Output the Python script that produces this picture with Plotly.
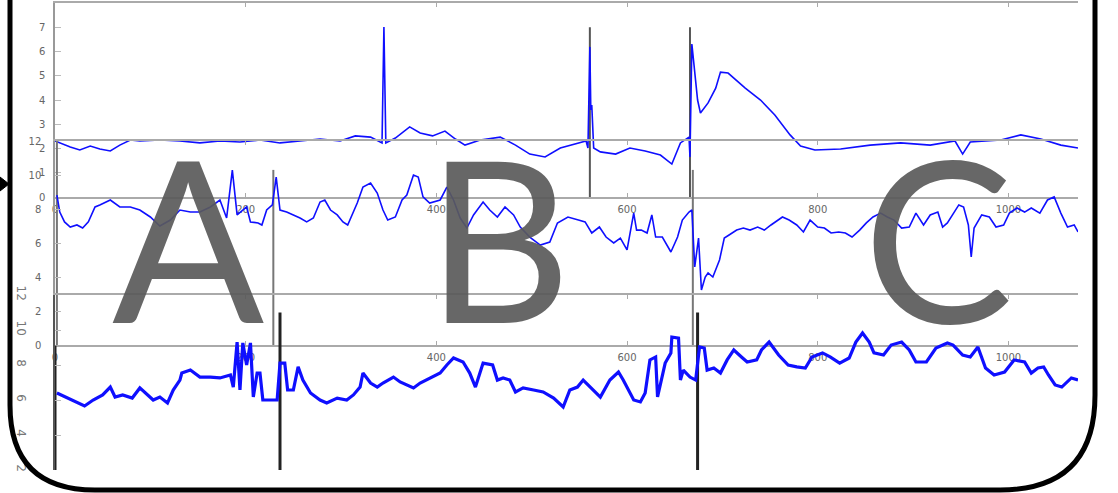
import plotly.graph_objects as go

# ---------------- data ----------------
# Panel 1 (top)
p1_x = [0, 5, 16, 26, 37, 47, 58, 68, 79, 89, 110, 131, 152, 173, 194, 215, 236, 257, 278, 299,
        315, 331, 343, 345, 347, 357, 372, 383, 396, 409, 420, 430, 446, 467, 483, 498, 514, 530,
        546, 557, 559, 561, 562, 563, 565, 572, 588, 603, 619, 635, 647, 656, 665, 666, 668, 674,
        677, 685, 693, 698, 706, 714, 724, 740, 755, 771, 782, 797, 824, 855, 887, 918, 944, 952,
        960, 992, 1013, 1034, 1055, 1073]
p1_y = [2.31, 2.23, 2.06, 1.94, 2.10, 1.98, 1.90, 2.14, 2.35, 2.31, 2.35, 2.31, 2.23, 2.31, 2.27,
        2.35, 2.23, 2.31, 2.39, 2.31, 2.52, 2.47, 2.23, 7.01, 2.23, 2.43, 2.89, 2.64, 2.52, 2.72,
        2.39, 2.14, 2.35, 2.47, 2.14, 1.77, 1.65, 2.02, 2.19, 2.31, 2.02, 6.19, 3.59, 3.79, 2.02,
        1.86, 1.77, 2.02, 1.90, 1.73, 1.36, 2.23, 2.47, 1.65, 6.31, 4.00, 3.46, 3.88, 4.49, 5.15,
        5.11, 4.82, 4.49, 4.00, 3.38, 2.56, 2.10, 1.94, 1.98, 2.14, 2.23, 2.14, 2.31, 1.77, 2.27,
        2.35, 2.56, 2.39, 2.14, 2.02]
p1_marks_x = [561, 666]
p1_marks_y = [0, 7]

# Panel 2 (middle)
p2_x = [2, 5, 10, 16, 23, 29, 35, 42, 47, 58, 68, 79, 89, 100, 110, 121, 131, 142, 152, 163, 173,
        180, 186, 191, 201, 205, 213, 217, 222, 228, 232, 236, 243, 250, 257, 264, 271, 278, 283,
        289, 296, 302, 307, 317, 323, 331, 338, 344, 349, 357, 364, 369, 376, 381, 386, 393, 404,
        411, 418, 425, 432, 439, 449, 456, 464, 472, 481, 488, 498, 509, 519, 527, 538, 549, 556,
        563, 571, 578, 586, 593, 600, 607, 610, 615, 621, 626, 630, 637, 643, 646, 653, 658, 665,
        668, 671, 675, 678, 682, 685, 690, 697, 702, 707, 715, 722, 729, 737, 744, 751, 763, 770,
        778, 785, 792, 800, 807, 814, 822, 829, 836, 844, 851, 858, 866, 873, 880, 888, 896, 903,
        911, 918, 926, 931, 936, 948, 953, 958, 961, 964, 972, 980, 987, 995, 1001, 1009, 1017,
        1024, 1033, 1041, 1048, 1055, 1062, 1069, 1073]
p2_y = [8.82, 7.82, 7.24, 6.94, 7.06, 6.88, 7.24, 8.12, 8.24, 8.53, 8.12, 8.12, 7.94, 7.53, 7.00,
        7.35, 7.94, 7.82, 7.82, 8.12, 8.53, 7.47, 10.29, 7.65, 8.12, 7.24, 7.18, 7.06, 7.94, 8.24,
        9.88, 7.94, 7.82, 7.65, 7.47, 7.24, 7.47, 8.41, 8.53, 7.94, 7.65, 7.24, 7.06, 8.35, 9.29,
        9.53, 8.94, 7.94, 7.35, 7.53, 8.53, 8.82, 10.00, 9.88, 8.71, 8.35, 8.53, 9.29, 8.53, 7.47,
        6.88, 7.65, 8.41, 7.94, 7.53, 8.12, 7.65, 6.94, 6.35, 5.88, 6.06, 7.18, 7.53, 7.35, 7.24,
        6.59, 6.94, 6.35, 6.00, 6.29, 5.59, 7.76, 6.76, 6.76, 6.59, 7.65, 6.35, 6.35, 5.76, 5.47,
        6.35, 7.35, 7.82, 7.94, 4.59, 6.29, 3.24, 4.00, 4.24, 4.00, 5.00, 6.29, 6.47, 6.76, 6.88,
        6.76, 6.94, 6.76, 7.06, 7.53, 7.35, 7.06, 6.65, 7.35, 6.94, 6.88, 6.59, 6.65, 6.59, 6.35,
        6.76, 7.18, 7.53, 7.76, 7.53, 7.35, 6.88, 6.94, 7.76, 7.06, 7.65, 7.82, 6.94, 7.18, 8.24,
        8.12, 7.06, 5.18, 6.88, 7.65, 7.53, 6.94, 7.06, 7.76, 8.06, 7.82, 8.06, 7.76, 8.53, 8.71,
        7.76, 6.94, 7.06, 6.65]
p2_marks_x = [2, 229, 669]
p2_marks_top = [12, 10.3, 10.3]

# Panel 3 (bottom)
p3_x = [2, 13, 23, 31, 40, 50, 58, 63, 71, 81, 89, 97, 103, 110, 118, 124, 131, 133, 142, 152, 163,
        173, 184, 187, 191, 194, 197, 201, 205, 208, 212, 215, 218, 226, 233, 236, 241, 244, 250,
        255, 260, 268, 278, 285, 296, 306, 313, 320, 323, 331, 338, 344, 355, 362, 376, 383, 393,
        404, 411, 418, 428, 435, 441, 449, 459, 464, 470, 477, 483, 491, 502, 512, 523, 533, 540,
        548, 554, 565, 572, 582, 591, 596, 607, 614, 619, 624, 630, 632, 640, 646, 647, 654, 656,
        659, 666, 672, 676, 681, 684, 691, 698, 705, 712, 720, 726, 736, 741, 749, 759, 769, 778,
        787, 794, 805, 813, 823, 833, 840, 847, 854, 859, 869, 877, 888, 896, 903, 914, 924, 936,
        942, 952, 960, 968, 976, 985, 996, 1006, 1017, 1024, 1031, 1037, 1042, 1049, 1056, 1066,
        1073]
p3_y = [6.40, 6.11, 5.89, 5.66, 6.00, 6.29, 6.74, 6.17, 6.29, 6.11, 6.69, 6.29, 6.00, 6.17, 5.83,
        6.57, 7.14, 7.54, 7.71, 7.31, 7.31, 7.26, 7.43, 6.74, 9.31, 6.57, 9.26, 8.00, 9.26, 6.17,
        7.54, 7.54, 6.00, 6.00, 6.00, 8.11, 8.11, 6.57, 6.57, 7.89, 7.14, 6.40, 6.00, 5.83, 6.11,
        6.00, 6.29, 6.74, 7.54, 6.97, 6.74, 6.97, 7.31, 7.03, 6.69, 6.97, 7.26, 7.54, 8.00, 8.40,
        8.17, 7.54, 6.74, 8.11, 8.00, 7.14, 7.26, 7.14, 6.46, 6.69, 6.57, 6.46, 6.11, 5.60, 6.57,
        6.74, 7.14, 6.57, 6.17, 7.14, 7.60, 7.14, 6.00, 5.89, 6.40, 8.29, 8.46, 6.17, 8.11, 8.69,
        9.60, 9.54, 7.14, 7.71, 7.31, 7.14, 9.03, 8.97, 7.71, 7.83, 7.54, 8.29, 8.86, 8.46, 8.17,
        8.29, 8.86, 9.31, 8.57, 8.00, 7.89, 7.83, 8.46, 8.69, 8.46, 8.11, 8.40, 9.31, 9.83, 9.31,
        8.69, 8.57, 9.14, 9.31, 8.86, 8.17, 8.17, 8.97, 9.26, 9.14, 8.57, 8.46, 9.03, 7.83, 7.43,
        7.60, 8.29, 8.17, 7.54, 7.83, 7.89, 7.43, 6.86, 6.74, 7.26, 7.14]
p3_marks_x = [0, 236, 674]
p3_marks_top = [9.1, 11.0, 11.0]
p3_marks_bottom = 2

x_ticks = [0, 200, 400, 600, 800, 1000]
p1_ticks = [0, 1, 2, 3, 4, 5, 6, 7, 8]
p2_ticks = [0, 2, 4, 6, 8, 10, 12]
p3_ticks = [2, 4, 6, 8, 10, 12]
letters = ["A", "B", "C"]

# ---------------- figure ----------------
W, H = 1118, 493


def px(x):
    return x / W


def py(y):
    return 1 - y / H


BLUE = "rgb(15,15,255)"
fig = go.Figure()

for xv in p1_marks_x:
    fig.add_trace(go.Scatter(x=[xv, xv], y=p1_marks_y, mode="lines",
                             line=dict(color="#555555", width=2), xaxis="x", yaxis="y",
                             hoverinfo="skip"))
fig.add_trace(go.Scatter(x=p1_x, y=p1_y, mode="lines", line=dict(color=BLUE, width=1.6),
                         xaxis="x", yaxis="y"))

for xv, top in zip(p2_marks_x, p2_marks_top):
    fig.add_trace(go.Scatter(x=[xv, xv], y=[0, top], mode="lines",
                             line=dict(color="#777777", width=2), xaxis="x2", yaxis="y2",
                             hoverinfo="skip"))
fig.add_trace(go.Scatter(x=p2_x, y=p2_y, mode="lines", line=dict(color=BLUE, width=1.6),
                         xaxis="x2", yaxis="y2"))

for xv, top in zip(p3_marks_x, p3_marks_top):
    fig.add_trace(go.Scatter(x=[xv, xv], y=[p3_marks_bottom, top], mode="lines",
                             line=dict(color="#222222", width=3), xaxis="x3", yaxis="y3",
                             hoverinfo="skip"))
fig.add_trace(go.Scatter(x=p3_x, y=p3_y, mode="lines", line=dict(color=BLUE, width=3.2),
                         xaxis="x3", yaxis="y3"))

xdom = [px(55), px(1078)]
tickfont = dict(family="DejaVu Sans", size=10, color="#666666")
common_x = dict(domain=xdom, range=[0, 1073], showgrid=False, zeroline=False, automargin=False,
                showline=True, linecolor="#aaaaaa", linewidth=1.5, ticks="inside",
                ticklen=4, tickcolor="#aaaaaa", tickvals=x_ticks, tickfont=tickfont)
common_y = dict(showgrid=False, zeroline=False, showline=True, linecolor="#999999",
                automargin=False, linewidth=1.5, ticks="inside", ticklen=6,
                tickcolor="#bbbbbb", tickfont=tickfont)

fig.update_layout(
    width=W, height=H, margin=dict(l=0, r=0, t=0, b=0, autoexpand=False),
    paper_bgcolor="white", plot_bgcolor="rgba(0,0,0,0)", showlegend=False,
    xaxis=dict(common_x, anchor="y", mirror="ticks", ticklabelstandoff=2),
    yaxis=dict(common_y, domain=[py(197), py(3)], range=[0, 8], tickvals=p1_ticks,
               anchor="x", ticklabelstandoff=6),
    xaxis2=dict(common_x, anchor="y2", mirror="ticks", ticklabelstandoff=2),
    yaxis2=dict(common_y, domain=[py(345), py(141)], range=[0, 12], tickvals=p2_ticks,
                anchor="x2", ticklabelstandoff=10),
    xaxis3=dict(common_x, anchor="y3", side="top", showticklabels=False),
    yaxis3=dict(common_y, domain=[py(470), py(295)], range=[2, 12], tickvals=p3_ticks,
                anchor="x3", tickangle=90, ticklabelstandoff=22, linecolor="#555555",
                tickfont=dict(family="DejaVu Sans", size=12, color="#777777")),
)

letter_pos = [(188, 236), (498, 236), (938, 236)]
for t, (lx, ly) in zip(letters, letter_pos):
    fig.add_annotation(text=t, xref="paper", yref="paper", x=px(lx), y=py(ly),
                       xanchor="center", yanchor="middle", showarrow=False,
                       font=dict(family="Lato", size=225, color="rgba(90,90,90,0.92)"))

# rounded frame
border = (f"M {px(10)},{py(-10)} L {px(10)},{py(405)} "
          f"Q {px(10)},{py(490)} {px(95)},{py(490)} L {px(1000)},{py(490)} "
          f"Q {px(1095)},{py(490)} {px(1095)},{py(395)} L {px(1095)},{py(-10)}")
fig.add_shape(type="path", path=border, xref="paper", yref="paper",
              line=dict(color="black", width=5))
arrow = f"M {px(0)},{py(177)} L {px(9)},{py(184)} L {px(0)},{py(191)} Z"
fig.add_shape(type="path", path=arrow, xref="paper", yref="paper",
              line=dict(color="black", width=1), fillcolor="black")

fig.write_html("out.html", config={"displayModeBar": False},
               post_script="document.body.style.margin='0';")
